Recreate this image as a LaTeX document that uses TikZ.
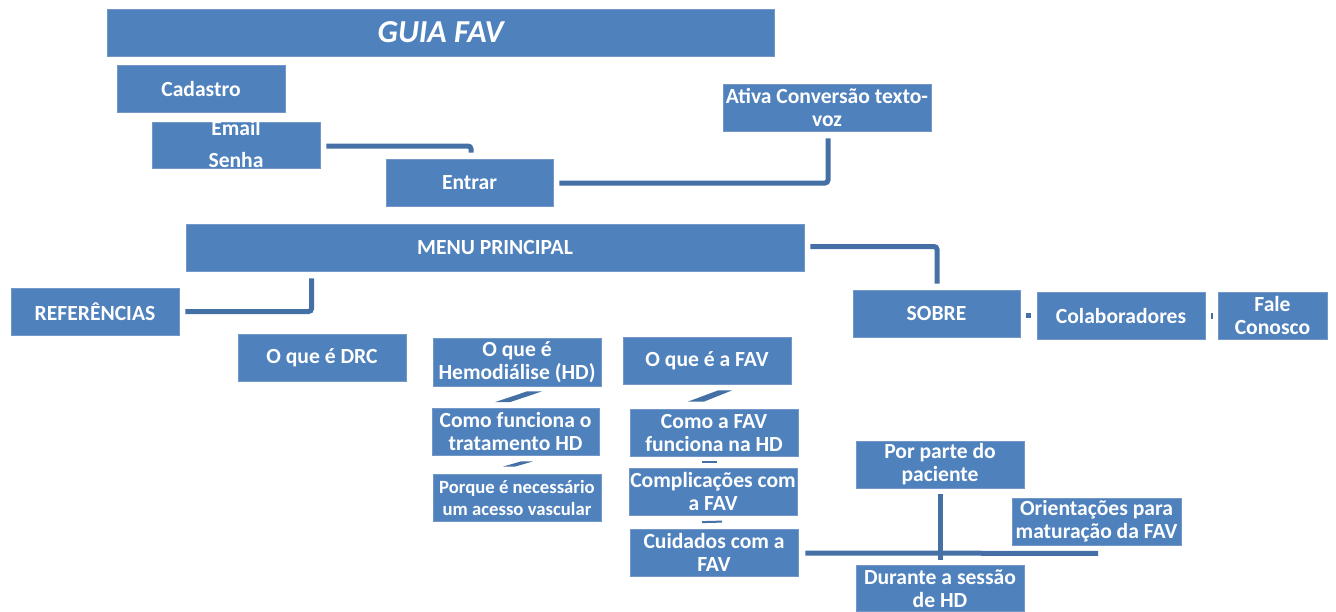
\documentclass[tikz,border=0pt]{standalone}
\usepackage{fontspec}
\setmainfont{Carlito}
\usetikzlibrary{calc}
\definecolor{boxblue}{HTML}{4F81BD}
\definecolor{boxedge}{HTML}{7398C8}
\definecolor{linkblue}{HTML}{4470A6}
\tikzset{
  box/.style={fill=boxblue, draw=boxedge, line width=0.8pt, text=white,
    font=\fontsize{21.6}{23}\selectfont\bfseries, align=center, inner sep=1pt,
    minimum width=168pt, minimum height=47pt},
  smalltext/.style={font=\fontsize{18.7}{22}\selectfont\bfseries},
  plaintext/.style={text=white, font=\fontsize{21.6}{23}\selectfont\bfseries, inner sep=0pt},
  conn/.style={draw=linkblue, line width=5pt, rounded corners=3pt},
  slantbar/.style={fill=linkblue, draw=none},
  thinlink/.style={draw=linkblue, line width=2pt},
}
\begin{document}
\begin{tikzpicture}[x=1pt,y=-1pt]
\useasboundingbox (0,0) rectangle (1336,611);
% header
\node[box, minimum width=667pt, font=\fontsize{32}{36}\selectfont\bfseries\itshape] (guia) at (440.5,32.5) {GUIA FAV};
% login area
\node[box] (cad) at (201,89) {Cadastro};
\node[box, minimum height=46pt] (email) at (236,145) {};
\node[plaintext] (emailtxt) at ($(email)+(0,-17)$) {Email};
\node[plaintext] (senhatxt) at ($(email)+(0,15)$) {Senha};
\node[box, minimum width=167pt] (entrar) at (469.5,182.5) {Entrar};
\node[box, minimum width=208pt] (ativa) at (827,107.5) {Ativa Conversão texto-\\voz};
% menu
\node[box, minimum width=618pt] (menu) at (495,247.5) {MENU PRINCIPAL};
\node[box] (ref) at (95,311.5) {REFERÊNCIAS};
\node[box, minimum width=167pt] (sobre) at (936.5,313.5) {SOBRE};
\node[box] (colab) at (1121,315.5) {Colaboradores};
\node[box, minimum width=109pt] (fale) at (1272.5,315.5) {Fale\\Conosco};
% content columns
\node[box] (drc) at (322,357.5) {O que é DRC};
\node[box, minimum height=48pt] (hemo) at (517,362) {O que é\\Hemodiálise (HD)};
\node[box] (fav) at (707,360.5) {O que é a FAV};
\node[box, minimum width=167pt] (comofunc) at (515.5,431.5) {Como funciona o\\tratamento HD};
\node[box, smalltext] (porque) at (517,497.5) {Porque é necessário\\um acesso vascular};
\node[box] (comofav) at (714,432.5) {Como a FAV\\funciona na HD};
\node[box] (compl) at (713,491.5) {Complicações com\\a FAV};
\node[box] (cuid) at (714,552.5) {Cuidados com a\\FAV};
\node[box] (porparte) at (940,464.5) {Por parte do\\paciente};
\node[box, minimum width=169pt] (orient) at (1096.5,521.5) {Orientações para\\maturação da FAV};
\node[box, minimum height=46pt] (durante) at (940,588.5) {Durante a sessão\\de HD};
% connectors
\draw[conn] ($(email.east)+(6,1)$) -| ($(entrar.north)+(1.5,-6)$);
\draw[conn] ($(entrar.east)+(6,0.5)$) -| ($(ativa.south)+(1,7)$);
\draw[conn] ($(menu.east)+(6,-1)$) -| ($(sobre.north)+(0.5,-6)$);
\draw[conn] ($(ref.east)+(6,0)$) -| ($(menu.south west)+(126,7)$);
\draw[conn] ($(sobre.east)+(6,1.5)$) -- ($(colab.west)+(-6,-0.5)$);
\draw[line width=2pt, linkblue] ($(colab.east)!0.5!(fale.west)+(0,-3)$) -- ($(colab.east)!0.5!(fale.west)+(0,3)$);
\fill[slantbar] ($(comofunc.north)+(-20.5,-5.5)$) -- ($(comofunc.north)+(-5.5,-5.5)$) -- ($(hemo.south)+(25,5)$) -- ($(hemo.south)+(10,5)$) -- cycle;
\fill[slantbar] ($(porque.north)+(-14,-7)$) -- ($(porque.north)+(-2,-7)$) -- ($(comofunc.south)+(17.5,6)$) -- ($(comofunc.south)+(5.5,6)$) -- cycle;
\fill[slantbar] ($(comofav.north)+(-26,-7)$) -- ($(comofav.north)+(-10,-7)$) -- ($(fav.south)+(25,6)$) -- ($(fav.south)+(11,6)$) -- cycle;
\draw[thinlink] ($(compl.north)+(-11,-6)$) -- ($(compl.north)+(4,-6)$);
\draw[thinlink] ($(cuid.north)+(-12,-6.5)$) -- ($(cuid.north)+(8,-7)$);
\draw[conn] ($(cuid.east)+(7,0.5)$) -- ($(orient.south)+(1.5,8)$);
\draw[conn] ($(porparte.south)+(0,6)$) -- ($(durante.north)+(0,-5)$);
\end{tikzpicture}
\end{document}
